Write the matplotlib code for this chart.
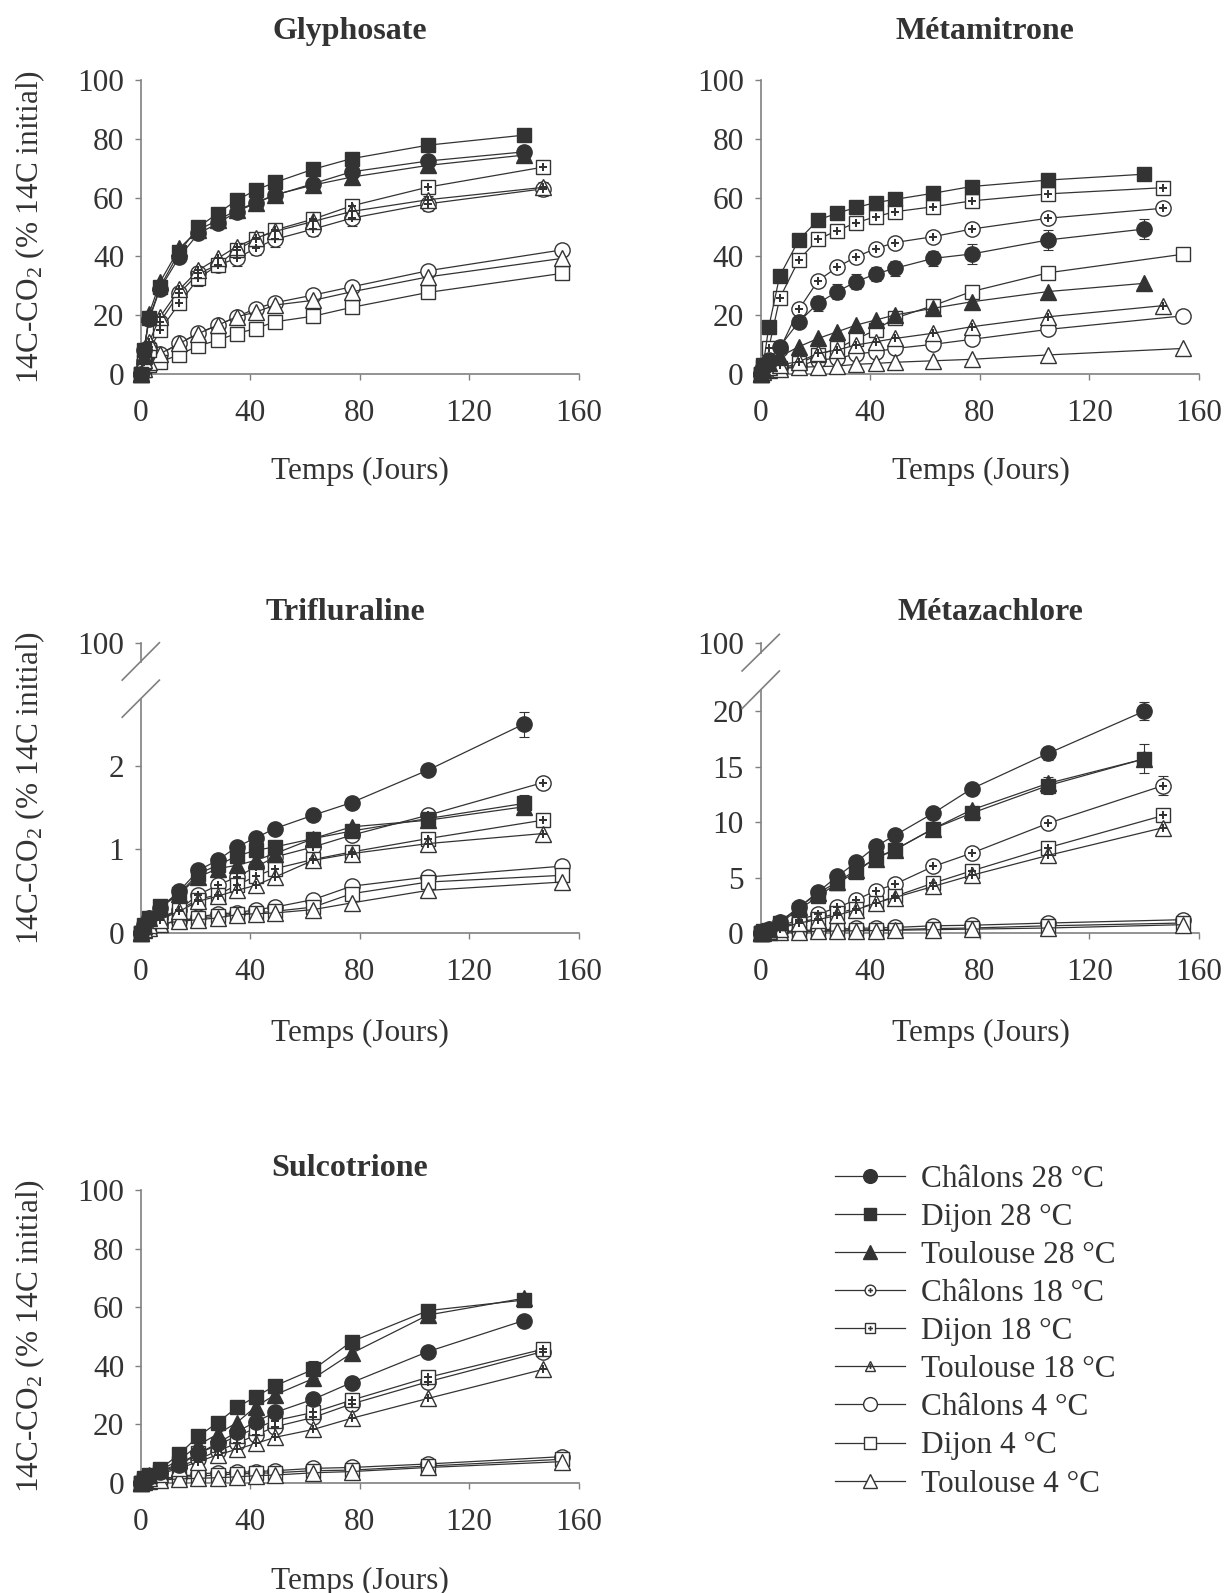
import matplotlib
matplotlib.use('Agg')
import matplotlib.pyplot as plt
from matplotlib.lines import Line2D

plt.rcParams['font.family'] = ['Liberation Serif', 'DejaVu Serif']
plt.rcParams['mathtext.fontset'] = 'custom'
plt.rcParams['mathtext.rm'] = 'Liberation Serif'
plt.rcParams['mathtext.it'] = 'Liberation Serif:italic'

# ---------------- data ----------------
days_common = [0, 1, 3, 7, 14, 21, 28, 35, 42, 49, 63, 77, 105]
last_day = {'28': 140, '18': 147, '4': 154}

series_names = ['Châlons 28 °C', 'Dijon 28 °C', 'Toulouse 28 °C',
                'Châlons 18 °C', 'Dijon 18 °C', 'Toulouse 18 °C',
                'Châlons 4 °C', 'Dijon 4 °C', 'Toulouse 4 °C']

glyphosate = {
    'Châlons 28 °C': [0, 8, 18.5, 29, 39.8, 47.8, 51.2, 55.2, 58.2, 60.8, 64.8, 68.8, 72.5, 75.6],
    'Dijon 28 °C': [0, 8, 18.9, 29.6, 41.5, 50, 54.6, 59.1, 62.6, 65.2, 69.7, 73.3, 77.9, 81.3],
    'Toulouse 28 °C': [0, 6, 20.5, 31.3, 42.7, 49, 52.3, 55.7, 58.3, 61, 64.3, 67, 71, 74.5],
    'Châlons 18 °C': [0, 4.3, 9.1, 17.7, 27.4, 34.2, 37, 39.3, 42.8, 45.8, 49.3, 53, 57.9, 63],
    'Dijon 18 °C': [0, 4, 8, 14.8, 24, 32.5, 37, 42.2, 45.8, 49, 52.7, 57.2, 63.6, 70.4],
    'Toulouse 18 °C': [0, 4.5, 10.8, 19.4, 28.7, 35.3, 39.3, 43.3, 46.2, 48.5, 51.9, 55.3, 59.3, 63.5],
    'Châlons 4 °C': [0, 2.3, 4.6, 6.6, 10.3, 13.9, 16.5, 19.4, 22.2, 24.2, 26.8, 29.6, 35.1, 42.2],
    'Dijon 4 °C': [0, 1.1, 2.9, 4, 6.5, 9.5, 11.4, 13.7, 15.4, 17.7, 19.6, 22.6, 27.7, 34.2],
    'Toulouse 4 °C': [0, 1.7, 4, 6.8, 10.3, 13.7, 16.5, 19.4, 21, 23.4, 25, 27.9, 33, 39.3],
}
glyphosate_err = {
    'Châlons 18 °C': [0, 0, 0, 0, 0, 2, 2.5, 2.5, 2.5, 2.5, 2.5, 2.5, 2.5, 2.5],
    'Dijon 18 °C': [0, 0, 0, 0, 0, 2.5, 0, 0, 0, 0, 0, 0, 0, 0],
    'Toulouse 28 °C': [0, 0, 0, 0, 0, 0, 0, 0, 0, 0, 0, 0, 1, 1.5],
}

metamitrone = {
    'Châlons 28 °C': [0, 2.4, 4.7, 9.2, 17.7, 24, 28, 31.4, 34, 35.9, 39.3, 40.8, 45.6, 49.3],
    'Dijon 28 °C': [0, 3, 15.8, 33.3, 45.6, 52.4, 54.7, 56.7, 58.3, 59.4, 61.5, 63.8, 66, 68],
    'Toulouse 28 °C': [0, 1.5, 3.5, 5.8, 9.2, 12, 14.3, 16.6, 18.3, 20, 22.3, 24.5, 28, 30.8],
    'Châlons 18 °C': [0, 1.5, 3.5, 8.3, 21.9, 31.7, 36.3, 39.9, 42.6, 44.7, 46.7, 49.3, 53, 56.4],
    'Dijon 18 °C': [0, 2.4, 8.6, 25.7, 38.8, 45.8, 48.8, 51.5, 53.5, 55.2, 56.9, 58.9, 61.3, 63.4],
    'Toulouse 18 °C': [0, 1.2, 2.4, 3, 4.1, 6.9, 8.1, 9.8, 10.9, 12, 13.8, 16, 19.4, 23.2],
    'Châlons 4 °C': [0, 0.7, 1.2, 1.8, 2.6, 4.7, 5.2, 6.7, 7.5, 8.6, 10, 11.7, 15.1, 19.7],
    'Dijon 4 °C': [0, 0.7, 1.2, 1.8, 3.5, 6.4, 8.6, 11.8, 14.9, 18.9, 23.2, 28, 34.4, 40.7],
    'Toulouse 4 °C': [0, 0.7, 1.2, 1.7, 2.2, 2.4, 2.6, 3.2, 3.5, 3.9, 4.4, 4.9, 6.4, 8.6],
}
metamitrone_err = {
    'Châlons 28 °C': [0, 0, 0, 0, 1.5, 2.5, 2.5, 2.5, 2.5, 2.5, 2.5, 3.5, 3.5, 3.5],
}

trifluraline = {
    'Châlons 28 °C': [0, 0.1, 0.18, 0.3, 0.5, 0.75, 0.87, 1.03, 1.14, 1.25, 1.41, 1.56, 1.95, 2.50],
    'Dijon 28 °C': [0, 0.1, 0.18, 0.32, 0.47, 0.71, 0.81, 0.92, 0.99, 1.03, 1.13, 1.22, 1.37, 1.55],
    'Toulouse 28 °C': [0, 0.08, 0.18, 0.3, 0.47, 0.67, 0.77, 0.81, 0.87, 0.95, 1.13, 1.27, 1.35, 1.51],
    'Châlons 18 °C': [0, 0.06, 0.12, 0.18, 0.28, 0.46, 0.57, 0.67, 0.79, 0.91, 1.03, 1.17, 1.41, 1.80],
    'Dijon 18 °C': [0, 0.06, 0.12, 0.17, 0.28, 0.40, 0.46, 0.57, 0.68, 0.77, 0.88, 0.97, 1.13, 1.35],
    'Toulouse 18 °C': [0, 0.05, 0.09, 0.16, 0.26, 0.38, 0.44, 0.51, 0.57, 0.67, 0.87, 0.95, 1.07, 1.19],
    'Châlons 4 °C': [0, 0.04, 0.07, 0.11, 0.14, 0.19, 0.23, 0.24, 0.28, 0.31, 0.40, 0.56, 0.67, 0.80],
    'Dijon 4 °C': [0, 0.04, 0.07, 0.11, 0.14, 0.18, 0.20, 0.23, 0.24, 0.26, 0.31, 0.47, 0.61, 0.69],
    'Toulouse 4 °C': [0, 0.03, 0.06, 0.11, 0.14, 0.16, 0.18, 0.22, 0.23, 0.24, 0.28, 0.36, 0.51, 0.61],
}
trifluraline_err = {
    'Châlons 28 °C': [0, 0, 0, 0, 0, 0, 0, 0, 0, 0, 0, 0, 0.04, 0.15],
    'Dijon 28 °C': [0, 0, 0, 0, 0, 0, 0, 0, 0, 0, 0, 0, 0, 0.1],
    'Toulouse 4 °C': [0, 0, 0, 0, 0, 0, 0, 0, 0, 0, 0, 0.04, 0.07, 0.07],
}

metazachlore = {
    'Châlons 28 °C': [0, 0.2, 0.4, 1.0, 2.3, 3.7, 5.1, 6.4, 7.8, 8.8, 10.8, 13.0, 16.2, 20.0],
    'Dijon 28 °C': [0, 0.15, 0.3, 0.9, 2.1, 3.3, 4.5, 5.5, 6.8, 7.5, 9.4, 10.8, 13.3, 15.7],
    'Toulouse 28 °C': [0, 0.15, 0.4, 1.0, 2.3, 3.6, 4.6, 5.7, 6.7, 7.5, 9.4, 11.1, 13.5, 15.7],
    'Châlons 18 °C': [0, 0.1, 0.2, 0.6, 1.2, 1.7, 2.3, 3.0, 3.8, 4.4, 6.0, 7.2, 9.9, 13.3],
    'Dijon 18 °C': [0, 0.1, 0.2, 0.5, 1.0, 1.3, 1.8, 2.2, 2.7, 3.3, 4.5, 5.6, 7.7, 10.6],
    'Toulouse 18 °C': [0, 0.1, 0.2, 0.4, 0.9, 1.2, 1.6, 2.1, 2.7, 3.2, 4.2, 5.2, 7.0, 9.5],
    'Châlons 4 °C': [0, 0.05, 0.1, 0.15, 0.2, 0.3, 0.35, 0.42, 0.45, 0.5, 0.65, 0.7, 0.9, 1.2],
    'Dijon 4 °C': [0, 0.05, 0.08, 0.1, 0.15, 0.2, 0.25, 0.28, 0.3, 0.3, 0.4, 0.45, 0.65, 0.9],
    'Toulouse 4 °C': [0, 0.03, 0.05, 0.08, 0.1, 0.15, 0.18, 0.2, 0.22, 0.25, 0.3, 0.35, 0.45, 0.75],
}
metazachlore_err = {
    'Châlons 28 °C': [0, 0, 0, 0, 0, 0, 0, 0, 0, 0, 0, 0, 0.6, 0.8],
    'Dijon 28 °C': [0, 0, 0, 0, 0, 0, 0, 0, 0, 0, 0, 0, 0.8, 1.3],
    'Châlons 18 °C': [0, 0, 0, 0, 0, 0, 0, 0, 0, 0, 0, 0, 0.4, 0.9],
    'Toulouse 18 °C': [0, 0, 0, 0, 0, 0, 0, 0, 0, 0, 0, 0, 0, 0.7],
}

sulcotrione = {
    'Châlons 28 °C': [0, 1.0, 2.0, 3.8, 6.0, 10.0, 13.4, 17.4, 20.8, 24.0, 28.5, 34.2, 44.8, 55.4],
    'Dijon 28 °C': [0, 1.5, 2.6, 4.6, 9.8, 15.9, 20.5, 25.7, 29.4, 33.1, 38.7, 48.2, 58.8, 62.4],
    'Toulouse 28 °C': [0, 1.3, 2.6, 4.3, 7.7, 12.9, 16.6, 20.5, 26.0, 30.0, 35.6, 44.2, 57.3, 63.0],
    'Châlons 18 °C': [0, 1.0, 1.8, 3.4, 5.5, 8.0, 10.9, 13.4, 16.3, 19.1, 22.3, 26.9, 34.5, 44.8],
    'Dijon 18 °C': [0, 1.0, 2.0, 3.8, 6.6, 10.0, 12.9, 15.9, 18.6, 21.2, 24.0, 28.2, 36.0, 45.6],
    'Toulouse 18 °C': [0, 0.8, 1.5, 3.0, 4.9, 7.2, 9.5, 11.4, 13.4, 15.5, 18.2, 22.0, 28.8, 38.7],
    'Châlons 4 °C': [0, 0.8, 1.2, 1.5, 2.0, 3.0, 3.4, 3.5, 3.8, 4.1, 4.9, 5.2, 6.4, 8.9],
    'Dijon 4 °C': [0, 0.6, 1.0, 1.4, 1.7, 2.3, 2.6, 3.0, 3.2, 3.4, 4.1, 4.3, 5.7, 8.0],
    'Toulouse 4 °C': [0, 0.4, 0.7, 0.9, 1.3, 1.5, 1.7, 2.0, 2.4, 2.6, 3.4, 3.8, 5.2, 7.2],
}
sulcotrione_err = {
    'Dijon 28 °C': [0, 0, 0, 0, 0, 2, 2, 1.5, 1.5, 2, 3, 0, 0, 0.8],
    'Dijon 18 °C': [0, 0, 0, 0, 0, 0, 0, 0, 0, 0, 0, 0, 0, 2],
}

x_ticks = [0, 40, 80, 120, 160]

# ---------------- styles ----------------
DARK = '#333333'
GRAY = '#808080'
FS = 22.5

def style_of(name):
    temp = name.split()[1]
    site = name.split()[0]
    marker = {'Châlons': 'o', 'Dijon': 's', 'Toulouse': '^'}[site]
    ms = {'o': 11, 's': 10, '^': 11}[marker]
    filled = temp == '28'
    plus = temp == '18'
    return marker, ms, filled, plus, temp

W, H = 1226, 1593
fig = plt.figure(figsize=(W / 100, H / 100), dpi=100)

def add_axes(x0, x1, y_bottom, y_top):
    return fig.add_axes([x0 / W, 1 - y_bottom / H, (x1 - x0) / W, (y_bottom - y_top) / H])

def draw(ax, data, errs):
    order = series_names[6:] + series_names[3:6] + series_names[:3]
    for name in order:
        marker, ms, filled, plus, temp = style_of(name)
        x = days_common + [last_day[temp]]
        y = data[name]
        if name in errs:
            ax.errorbar(x, y, yerr=errs[name], fmt='none', ecolor=DARK,
                        elinewidth=0.8, capsize=3.5, capthick=0.8,
                        clip_on=False, zorder=2)
        ax.plot(x, y, color=DARK, lw=0.9, marker=marker, ms=ms,
                mfc=DARK if filled else 'white', mec=DARK, mew=1.0,
                clip_on=False, zorder=3)
        if plus:
            ax.plot(x, y, ls='none', marker='P', ms=5.5, color=DARK, mew=0,
                    clip_on=False, zorder=4)

def setup(ax, ylim, yticks, yticklabels, broken=None):
    ax.set_xlim(0, 160)
    ax.set_ylim(*ylim)
    ax.set_xticks(x_ticks)
    ax.set_yticks(yticks)
    ax.set_yticklabels(yticklabels)
    for s in ['top', 'right']:
        ax.spines[s].set_visible(False)
    for s in ['left', 'bottom']:
        ax.spines[s].set_color(GRAY)
        ax.spines[s].set_linewidth(1.2)
    ax.tick_params(axis='both', direction='out', length=4, width=1.0,
                   color=GRAY, labelsize=FS, labelcolor=DARK)
    ax.tick_params(axis='x', pad=14)
    ax.tick_params(axis='y', pad=8)
    ax.patch.set_alpha(0)
    if broken is not None:
        ax.spines['left'].set_visible(False)
        (sx0, sx1), (u0, u1), (l0, l1), (gap_lo, gap_hi) = broken
        kw = dict(transform=ax.transAxes, color=GRAY, lw=1.2, clip_on=False)
        ax.plot([0, 0], [0, gap_lo], **kw)
        ax.plot([0, 0], [gap_hi, 1], **kw)
        ax.plot([sx0, sx1], [u0, u1], **kw)
        ax.plot([sx0, sx1], [l0, l1], **kw)

# panel geometry (pixels)
LX0, LX1 = 141, 578.5
RX0, RX1 = 760.5, 1199

ax1 = add_axes(LX0, LX1, 373.7, 80.3)
ax2 = add_axes(RX0, RX1, 373.7, 80.3)
ax3 = add_axes(LX0, LX1, 933, 643)
ax4 = add_axes(RX0, RX1, 933, 643)
ax5 = add_axes(LX0, LX1, 1482.7, 1190)

draw(ax1, glyphosate, glyphosate_err)
setup(ax1, (0, 100), [0, 20, 40, 60, 80, 100], ['0', '20', '40', '60', '80', '100'])
draw(ax2, metamitrone, metamitrone_err)
setup(ax2, (0, 100), [0, 20, 40, 60, 80, 100], ['0', '20', '40', '60', '80', '100'])

tri_top = 3.47
draw(ax3, trifluraline, trifluraline_err)
setup(ax3, (0, tri_top), [0, 1, 2, tri_top], ['0', '1', '2', '100'],
      broken=((-0.043, 0.042), (0.872, 1.001), (0.744, 0.872), (0.807, 0.936)))

maz_top = 26.15
draw(ax4, metazachlore, metazachlore_err)
setup(ax4, (0, maz_top), [0, 5, 10, 15, 20, maz_top], ['0', '5', '10', '15', '20', '100'],
      broken=((-0.042, 0.043), (0.9035, 1.03), (0.774, 0.9035), (0.837, 0.967)))

draw(ax5, sulcotrione, sulcotrione_err)
setup(ax5, (0, 100), [0, 20, 40, 60, 80, 100], ['0', '20', '40', '60', '80', '100'])

# titles
titles = [('Glyphosate', 350, 31.5), ('Métamitrone', 985, 31.5),
          ('Trifluraline', 345, 612.5), ('Métazachlore', 990, 612.5),
          ('Sulcotrione', 350, 1169)]
for t, x, y in titles:
    fig.text(x / W, 1 - y / H, t, ha='center', va='center', fontsize=23,
             fontweight='bold', color=DARK)

# x labels
for x, y in [(360, 471), (981, 471), (360, 1033), (981, 1033), (360, 1581)]:
    fig.text(x / W, 1 - y / H, 'Temps (Jours)', ha='center', va='center',
             fontsize=FS, color=DARK)

# y labels
ylab = '14C-CO$_\\mathrm{2}$ (% 14C initial)'
for y in [227, 788, 1336]:
    fig.text(30 / W, 1 - y / H, ylab, ha='center', va='center', rotation=90,
             fontsize=FS, color=DARK)

# legend
handles = []
for name in series_names:
    marker, ms, filled, plus, temp = style_of(name)
    base = Line2D([], [], color=DARK, lw=0.9, marker=marker,
                  ms=ms * (0.7 if plus else 0.9),
                  mfc=DARK if filled else 'white', mec=DARK, mew=1.0)
    if plus:
        handles.append((base, Line2D([], [], ls='none', marker='P', ms=3.5,
                                     color=DARK, mew=0)))
    else:
        handles.append(base)
fig.legend(handles, series_names, loc='upper left',
           bbox_to_anchor=(835 / W, 1 - 1165 / H), frameon=False,
           fontsize=FS, labelcolor=DARK, handlelength=2.25, handletextpad=0.5,
           labelspacing=0.29, borderpad=0, borderaxespad=0)

fig.savefig('out.png', dpi=100)
